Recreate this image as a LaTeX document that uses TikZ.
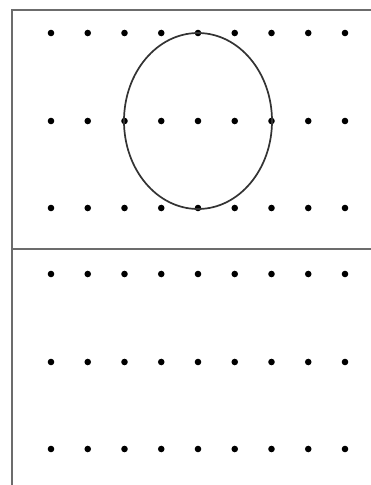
\documentclass[tikz,border=0pt]{standalone}
\usepackage{tikz}

\begin{document}
\begin{tikzpicture}[x=1pt,y=-1pt,
    frame/.style={draw=gray!85!black, line width=2.4pt},
    pin/.style={fill=black},
    loop/.style={draw=black!80, line width=1.7pt}]
  \useasboundingbox (0,0) rectangle (371,485);
  % frame and divider
  \draw[frame] (371,10) -- (12,10) -- (12,485);
  \draw[frame] (12,249) -- (371,249);
  % dot rows
  \foreach \y in {33,121,208,274,362,449} {
    \foreach \k in {0,...,8} { \fill[pin] (51+36.75*\k,\y) circle (3.3); }
  }
  % ellipse through grid points
  \draw[loop] (198,121) ellipse (74 and 88);
\end{tikzpicture}
\end{document}
